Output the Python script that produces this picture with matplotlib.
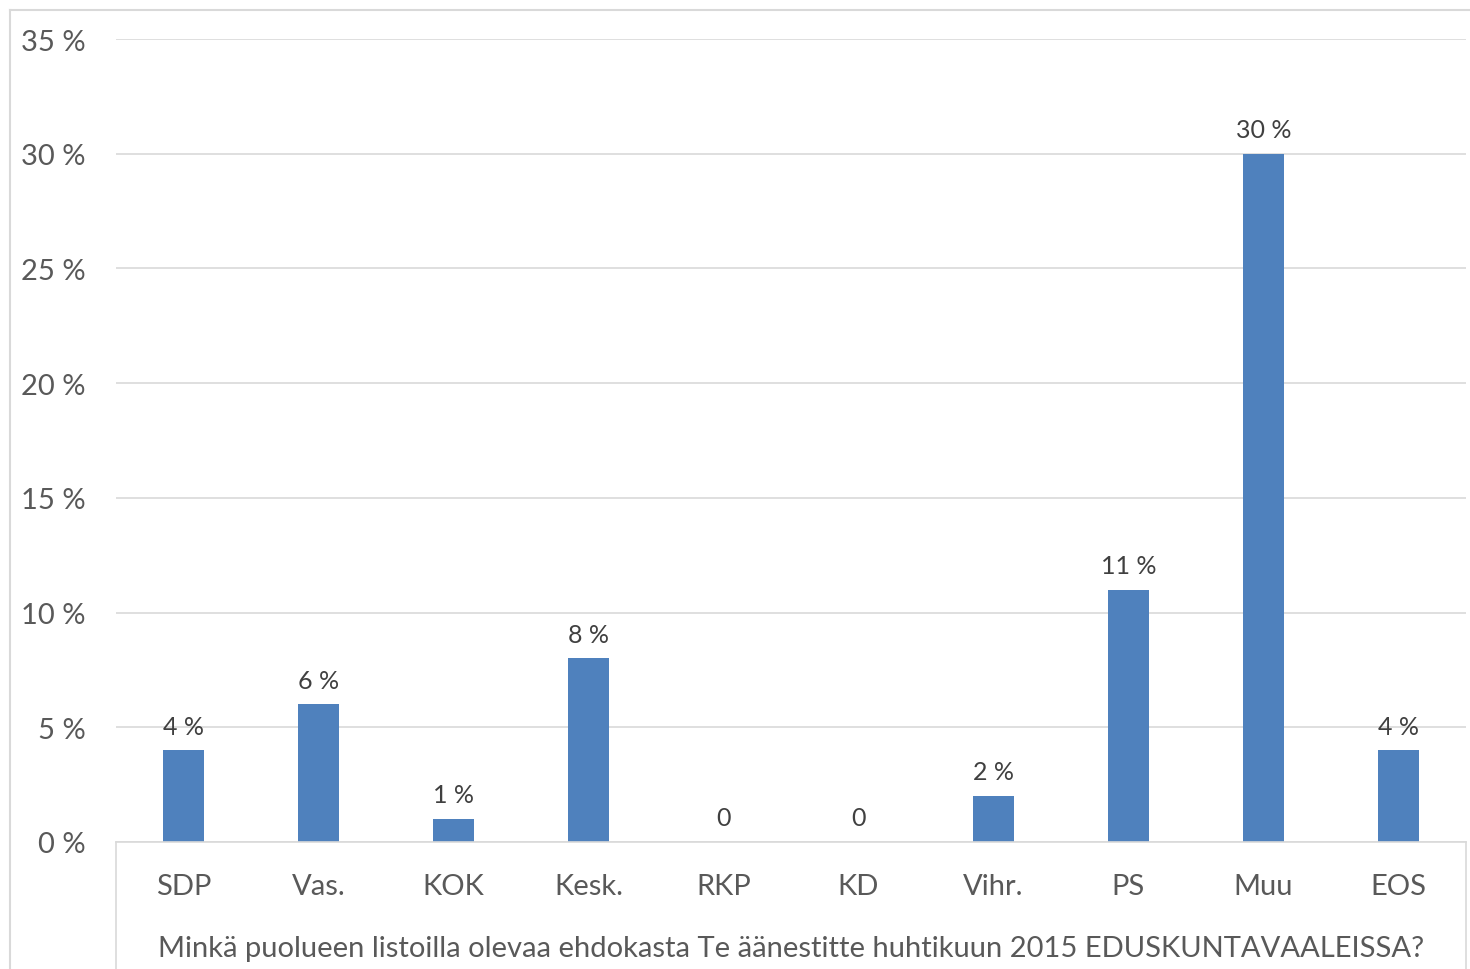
import matplotlib.pyplot as plt
from matplotlib.lines import Line2D
from matplotlib.ticker import FuncFormatter

puolueet = ["SDP", "Vas.", "KOK", "Kesk.", "RKP", "KD", "Vihr.", "PS", "Muu", "EOS"]
osuudet = [4, 6, 1, 8, 0, 0, 2, 11, 30, 4]
otsikko = "Minkä puolueen listoilla olevaa ehdokasta Te äänestitte huhtikuun 2015 EDUSKUNTAVAALEISSA?"

plt.rcParams['font.family'] = ['Lato', 'DejaVu Sans']

fig = plt.figure(figsize=(14.7, 9.7), dpi=100)
ax = fig.add_axes([116 / 1470, 1 - 843 / 970, 1350 / 1470, 803 / 970])

x = range(len(puolueet))
ax.bar(x, osuudet, width=0.31, color="#4f81bd", zorder=3)
for xi, v in zip(x, osuudet):
    teksti = f"{v} %" if v else "0"
    ax.text(xi, v + 0.55, teksti, ha="center", va="bottom", fontsize=18, color="#404040")

ax.set_xlim(-0.5, len(puolueet) - 0.5)
ax.set_ylim(0, 35)
ax.set_yticks(range(0, 36, 5))
ax.yaxis.set_major_formatter(FuncFormatter(lambda v, p: f"{int(v)} %"))
ax.grid(axis="y", color="#d9d9d9", linewidth=1.2, zorder=0)
ax.set_xticks(list(x))
ax.set_xticklabels(puolueet)
ax.tick_params(axis="both", length=0, labelsize=21, labelcolor="#595959")
ax.tick_params(axis="y", pad=22)
ax.tick_params(axis="x", pad=22)
for s in ax.spines.values():
    s.set_visible(False)
ax.set_xlabel(otsikko, fontsize=21, color="#595959", labelpad=26)

# kategoria-alueen reunat ja kehys
harmaa = "#d9d9d9"
fig.add_artist(Line2D([116 / 1470, 116 / 1470], [0, 1 - 843 / 970], color=harmaa, lw=1.2))
fig.add_artist(Line2D([1466 / 1470, 1466 / 1470], [0, 1 - 843 / 970], color=harmaa, lw=1.2))
fig.add_artist(Line2D([116 / 1470, 1466 / 1470], [1 - 843 / 970] * 2, color=harmaa, lw=1.2))
fig.add_artist(Line2D([10 / 1470, 10 / 1470], [0, 1 - 11 / 970], color=harmaa, lw=1.5))
fig.add_artist(Line2D([10 / 1470, 1], [1 - 11 / 970] * 2, color=harmaa, lw=1.5))

fig.savefig("out.png", dpi=100)
